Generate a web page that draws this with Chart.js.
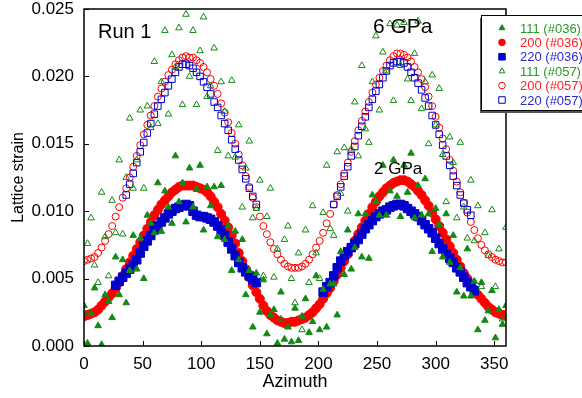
<!DOCTYPE html>
<html>
<head>
<meta charset="utf-8">
<script src="https://cdn.jsdelivr.net/npm/chart.js@4.4.1/dist/chart.umd.min.js"></script>
<style>
  html, body { margin: 0; padding: 0; background: #fff; }
  #wrap { width: 582px; height: 398px; position: relative; }
</style>
</head>
<body>
<div id="wrap"><canvas id="strainChart" width="582" height="398"></canvas></div>
<script>
// Azimuth steps shared by every series (degrees)
const azimuth = [0,3,6,9,12,15,18,21,24,27,30,33,36,39,42,45,48,51,54,57,60,63,66,69,72,75,78,81,84,87,90,
  93,96,99,102,105,108,111,114,117,120,123,126,129,132,135,138,141,144,147,150,153,156,159,162,165,168,171,174,177,180,
  183,186,189,192,195,198,201,204,207,210,213,216,219,222,225,228,231,234,237,240,243,246,249,252,255,258,261,264,267,270,
  273,276,279,282,285,288,291,294,297,300,303,306,309,312,315,318,321,324,327,330,333,336,339,342,345,348,351,354,357,360];

// 2 GPa (#036)
const s111_036 = [.0030,.0002,.0024,.0043,.0015,.0001,.0038,.0033,.0021,.0066,.0038,.0064,.0032,.0056,.0082,.0057,.0080,.0050,.0097,.0091,.0084,.0121,.0085,.0115,.0103,.0091,.0141,.0107,.0121,.0092,.0132,
  .0103,.0116,.0134,.0086,.0118,.0104,.0118,.0081,.0119,.0079,.0089,.0056,.0085,.0064,.0079,.0038,.0056,.0014,.0054,.0025,.0049,.0009,.0023,.0027,.0002,.0040,.0005,.0014,.0003,.0028,
  .0004,.0022,.0035,.0010,.0018,.0052,.0012,.0042,.0014,.0046,.0046,.0023,.0070,.0053,.0086,.0057,.0073,.0098,.0066,.0098,.0065,.0112,.0107,.0097,.0134,.0097,.0115,.0138,.0111,.0096,
  .0134,.0114,.0143,.0095,.0119,.0097,.0124,.0098,.0070,.0102,.0090,.0066,.0098,.0062,.0082,.0040,.0058,.0037,.0072,.0037,.0048,.0012,.0047,.0019,.0026,.0041,.0006,.0027,.0016,.0030];
const s200_036 = [.0022,.0023,.0024,.0025,.0027,.0030,.0033,.0036,.0039,.0043,.0047,.0052,.0057,.0062,.0067,.0072,.0077,.0082,.0087,.0092,.0097,.0101,.0105,.0108,.0111,.0114,.0116,.0118,.0119,.0119,.0119,
  .0119,.0118,.0117,.0116,.0114,.0111,.0107,.0103,.0098,.0093,.0088,.0082,.0076,.0069,.0063,.0057,.0051,.0045,.0040,.0035,.0030,.0026,.0023,.0021,.0019,.0018,.0017,.0017,.0018,.0018,
  .0019,.0020,.0021,.0023,.0025,.0028,.0031,.0035,.0039,.0043,.0048,.0053,.0058,.0063,.0068,.0073,.0078,.0083,.0088,.0093,.0098,.0103,.0107,.0111,.0114,.0117,.0119,.0121,.0122,.0123,
  .0123,.0122,.0120,.0118,.0115,.0112,.0108,.0104,.0099,.0094,.0089,.0084,.0079,.0074,.0069,.0064,.0059,.0054,.0050,.0046,.0042,.0038,.0035,.0032,.0029,.0027,.0025,.0024,.0023,.0023];
const s220_036 = [null,null,null,null,null,null,null,null,null,.0045,.0048,.0051,.0054,.0057,.0060,.0064,.0069,.0074,.0078,.0082,.0086,.0089,.0092,.0095,.0098,.0100,.0102,.0103,.0104,.0105,.0104,
  .0100,.0097,.0096,.0096,.0095,.0094,.0092,.0089,.0086,.0082,.0077,.0072,.0067,.0062,.0058,.0055,.0052,.0049,.0047,null,null,null,null,null,null,null,null,null,null,null,
  null,null,null,null,null,null,null,.0040,.0044,.0047,.0052,.0058,.0063,.0067,.0070,.0073,.0076,.0079,.0083,.0087,.0090,.0093,.0096,.0098,.0100,.0101,.0103,.0104,.0105,.0105,
  .0104,.0102,.0100,.0098,.0096,.0093,.0090,.0087,.0084,.0080,.0076,.0072,.0068,.0065,.0062,.0058,.0055,.0051,.0047,.0044,.0041,null,null,null,null,null,null,null,null,null];

// 6 GPa (#057)
const s111_057 = [.0025,.0076,.0095,.0060,.0047,.0114,.0081,.0052,.0108,.0084,.0138,.0083,.0125,.0169,.0117,.0138,.0175,.0117,.0178,.0162,.0211,.0165,.0196,.0234,.0172,.0216,.0207,.0236,.0179,.0246,.0200,
  .0234,.0179,.0219,.0244,.0185,.0193,.0221,.0145,.0196,.0174,.0141,.0197,.0140,.0164,.0103,.0132,.0152,.0095,.0102,.0123,.0052,.0096,.0117,.0051,.0072,.0020,.0079,.0089,.0050,.0032,
  .0069,.0012,.0086,.0047,.0104,.0069,.0050,.0099,.0134,.0087,.0082,.0144,.0113,.0147,.0100,.0146,.0181,.0141,.0208,.0161,.0151,.0196,.0230,.0175,.0218,.0204,.0239,.0182,.0238,.0208,
  .0240,.0198,.0182,.0217,.0241,.0176,.0196,.0150,.0201,.0164,.0191,.0142,.0107,.0155,.0136,.0095,.0151,.0103,.0080,.0123,.0078,.0104,.0044,.0084,.0067,.0101,.0044,.0072,.0020,.0088];
const s200_057 = [.0063,.0064,.0065,.0066,.0069,.0073,.0078,.0083,.0089,.0096,.0103,.0110,.0117,.0125,.0133,.0141,.0149,.0157,.0164,.0171,.0178,.0185,.0191,.0196,.0201,.0205,.0209,.0212,.0214,.0215,.0214,
  .0214,.0212,.0210,.0207,.0203,.0198,.0193,.0187,.0180,.0173,.0166,.0158,.0150,.0142,.0134,.0126,.0118,.0110,.0103,.0096,.0089,.0083,.0077,.0072,.0068,.0064,.0061,.0059,.0058,.0058,
  .0058,.0059,.0061,.0064,.0068,.0073,.0078,.0084,.0091,.0098,.0105,.0112,.0120,.0128,.0136,.0144,.0152,.0160,.0167,.0174,.0181,.0188,.0194,.0199,.0204,.0208,.0212,.0215,.0217,.0217,
  .0216,.0214,.0211,.0207,.0203,.0198,.0192,.0185,.0178,.0170,.0162,.0154,.0146,.0138,.0130,.0122,.0114,.0106,.0099,.0092,.0086,.0080,.0075,.0071,.0068,.0066,.0064,.0063,.0062,.0062];
const s220_057 = [null,null,null,null,null,null,null,null,null,null,null,null,.0112,.0120,.0128,.0136,.0144,.0151,.0158,.0165,.0172,.0178,.0183,.0188,.0193,.0198,.0203,.0207,.0209,.0209,.0208,
  .0206,.0203,.0200,.0196,.0192,.0187,.0181,.0177,.0171,.0165,.0160,.0153,.0146,.0138,.0131,.0124,.0117,.0111,.0105,null,null,null,null,null,null,null,null,null,null,null,
  null,null,null,null,null,null,null,null,null,null,.0105,.0111,.0118,.0126,.0133,.0141,.0148,.0156,.0163,.0170,.0177,.0183,.0189,.0194,.0199,.0204,.0208,.0210,.0211,.0211,
  .0210,.0207,.0203,.0199,.0195,.0190,.0184,.0178,.0171,.0164,.0157,.0149,.0141,.0134,.0126,.0119,.0112,.0106,.0101,.0097,null,null,null,null,null,null,null,null,null,null];

const xTicks = [0, 50, 100, 150, 200, 250, 300, 350];
const yTicks = [0, 0.005, 0.010, 0.015, 0.020, 0.025];

const GREEN = '#138a13';
const RED = '#ff0000';
const BLUE = '#0000cc';
const FONT = '"Liberation Sans", Arial, sans-serif';

function toPoints(values) {
    const pts = [];
    values.forEach((v, i) => {
        if (v !== null) pts.push({ x: azimuth[i], y: v });
    });
    return pts;
}

const seriesDefs = [
    { label: '111 (#036)', data: s111_036, color: GREEN, style: 'triangle', filled: true, radius: 3.8, order: 0, text: '#2a9a2a' },
    { label: '200 (#036)', data: s200_036, color: RED, style: 'circle', filled: true, radius: 4.5, order: 3, text: '#ff2222' },
    { label: '220 (#036)', data: s220_036, color: BLUE, style: 'rect', filled: true, radius: 6, order: 2, text: '#2a2ad0' },
    { label: '111 (#057)', data: s111_057, color: GREEN, style: 'triangle', filled: false, radius: 3.8, order: 1, text: '#2a9a2a' },
    { label: '200 (#057)', data: s200_057, color: RED, style: 'circle', filled: false, radius: 3.5, order: 5, text: '#ff2222' },
    { label: '220 (#057)', data: s220_057, color: BLUE, style: 'rect', filled: false, radius: 4.6, order: 4, text: '#2a2ad0' }
];

const datasets = seriesDefs.map(s => ({
    label: s.label,
    data: toPoints(s.data),
    pointStyle: s.style,
    pointRadius: s.radius,
    pointBorderWidth: 1,
    pointBackgroundColor: s.filled ? s.color : 'rgba(0,0,0,0)',
    pointBorderColor: s.color,
    showLine: false,
    order: s.order
}));

// frame, inward ticks, annotations and the boxed legend
const decorations = {
    id: 'decorations',
    afterDraw(chart) {
        const { ctx, chartArea: a, scales } = chart;
        ctx.save();
        ctx.strokeStyle = '#000';
        ctx.lineWidth = 1.5;
        ctx.strokeRect(a.left, a.top, a.right - a.left, a.bottom - a.top);

        ctx.lineWidth = 1;
        ctx.beginPath();
        xTicks.forEach(t => {
            const px = Math.round(scales.x.getPixelForValue(t)) + 0.5;
            ctx.moveTo(px, a.bottom);
            ctx.lineTo(px, a.bottom - 5);
        });
        yTicks.forEach(t => {
            const py = Math.round(scales.y.getPixelForValue(t)) + 0.5;
            ctx.moveTo(a.left, py);
            ctx.lineTo(a.left + 5, py);
        });
        ctx.stroke();

        ctx.fillStyle = '#000';
        ctx.textBaseline = 'alphabetic';
        ctx.textAlign = 'left';
        ctx.font = '20px ' + FONT;
        ctx.fillText('Run 1', 98, 38);
        ctx.font = '21px ' + FONT;
        ctx.fillText('6 GPa', 373, 33);
        ctx.font = '17px ' + FONT;
        ctx.fillText('2 GPa', 374, 174);

        // legend box with shadow
        const lx = 481, ly = 15, lw = 110, lh = 95;
        ctx.fillStyle = '#555';
        ctx.fillRect(lx - 1, ly + 3, lw, lh);
        ctx.fillStyle = '#fff';
        ctx.fillRect(lx, ly, lw, lh);
        ctx.strokeStyle = '#000';
        ctx.lineWidth = 1;
        ctx.strokeRect(lx + 0.5, ly + 0.5, lw, lh);

        ctx.font = '13px ' + FONT;
        ctx.textBaseline = 'middle';
        seriesDefs.forEach((s, i) => {
            const y = 28 + i * 14.4;
            ctx.fillStyle = s.filled ? s.color : 'rgba(0,0,0,0)';
            ctx.strokeStyle = s.color;
            ctx.lineWidth = 1;
            Chart.helpers.drawPoint(ctx, { pointStyle: s.style, radius: s.style === 'rect' ? 4.6 : 3.3, borderWidth: 1 }, 502, y);
            ctx.fillStyle = s.text;
            ctx.fillText(s.label, 520, y + 1);
        });
        ctx.restore();
    }
};

Chart.defaults.font.family = FONT;
Chart.defaults.color = '#000';

new Chart(document.getElementById('strainChart'), {
    type: 'scatter',
    data: { datasets },
    options: {
        responsive: false,
        animation: false,
        events: [],
        layout: { padding: { top: 9, right: 76, left: 0, bottom: 0 } },
        plugins: { legend: { display: false }, tooltip: { enabled: false } },
        scales: {
            x: {
                type: 'linear',
                min: 0,
                max: 360,
                afterBuildTicks: s => { s.ticks = xTicks.map(v => ({ value: v })); },
                afterFit: s => { s.height = 52; s.paddingLeft = 0; s.paddingRight = 0; },
                grid: { display: false, drawTicks: false },
                border: { display: false },
                ticks: { font: { size: 17 }, padding: 8, maxRotation: 0, color: '#000' },
                title: { display: true, text: 'Azimuth', font: { size: 18 }, padding: { top: 2, bottom: 5 }, color: '#000' }
            },
            y: {
                type: 'linear',
                min: 0,
                max: 0.025,
                afterBuildTicks: s => { s.ticks = yTicks.map(v => ({ value: v })); },
                afterFit: s => { s.width = 84; s.paddingTop = 0; s.paddingBottom = 0; },
                grid: { display: false, drawTicks: false },
                border: { display: false },
                ticks: { font: { size: 17 }, padding: 10, color: '#000', callback: v => v.toFixed(3) },
                title: { display: true, text: 'Lattice strain', font: { size: 16 }, padding: { top: 9, bottom: 0 }, color: '#000' }
            }
        }
    },
    plugins: [decorations]
});
</script>
</body>
</html>
